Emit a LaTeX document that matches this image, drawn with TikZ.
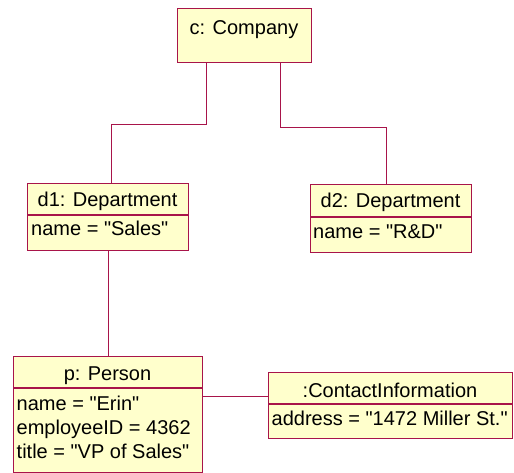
\documentclass[tikz,border=0pt]{standalone}
\usepackage{fontspec}
\setmainfont{Liberation Sans}[Ligatures=TeXOff]
\definecolor{objfill}{HTML}{FFFFCC}
\definecolor{objedge}{HTML}{A8144A}
\tikzset{
  objbox/.style={draw=objedge, fill=objfill, line width=1.3pt, inner sep=0pt, anchor=north west},
  sep/.style={draw=objedge, line width=1.3pt},
  link/.style={draw=objedge, line width=1.3pt},
  title/.style={inner sep=0pt, anchor=base, font=\fontsize{20}{24}\selectfont},
  attr/.style={inner sep=0pt, anchor=base west, align=left, font=\fontsize{20}{24}\selectfont},
}
\begin{document}
\begin{tikzpicture}[x=1pt, y=-1pt]
\useasboundingbox (0,0) rectangle (514,473);

% object boxes
\node[objbox, minimum width=134, minimum height=54] (c)  at (177,8)   {};
\node[objbox, minimum width=161, minimum height=67] (d1) at (27,183)  {};
\node[objbox, minimum width=161, minimum height=68] (d2) at (310,184) {};
\node[objbox, minimum width=189, minimum height=116] (p) at (13,356)  {};
\node[objbox, minimum width=244, minimum height=66] (ci) at (268,372) {};

% compartment separators
\draw[sep] (d1.north west) ++(0,32) -- ++(161,0);
\draw[sep] (d2.north west) ++(0,33) -- ++(161,0);
\draw[sep] (p.north west)  ++(0,32) -- ++(189,0);
\draw[sep] (ci.north west) ++(0,32) -- ++(244,0);

% names
\node[title] (ct)  at (244,34.5)  {c: Company};
\node[title] (d1t) at (107.5,207) {d1: Department};
\node[title] (d2t) at (390.5,208) {d2: Department};
\node[title] (pt)  at (107.5,380) {p: Person};
\node[title] (cit) at (390,397)   {:ContactInformation};

% attribute values
\node[attr] (d1a) at (31,236)  {name = "Sales"};
\node[attr] (d2a) at (313,238) {name = "R\&D"};
\node[attr] (pa1) at (16.5,410)  {name = "Erin"};
\node[attr] (pa2) at (16.5,434.5) {employeeID = 4362};
\node[attr] (pa3) at (16.5,458.5) {title = "VP of Sales"};
\node[attr] (cia) at (271.5,425) {address = "1472 Miller St."};

% links
\draw[link] ([xshift=-38]c.south) -- ++(0,61) -| ([xshift=3.5]d1.north);
\draw[link] ([xshift=36]c.south) -- ++(0,64) -| ([xshift=-4.5]d2.north);
\draw[link] (d1.south) -- (p.north);
\draw[link] ([yshift=18]p.east) -- ([yshift=18]p.east -| ci.west);
\end{tikzpicture}
\end{document}
